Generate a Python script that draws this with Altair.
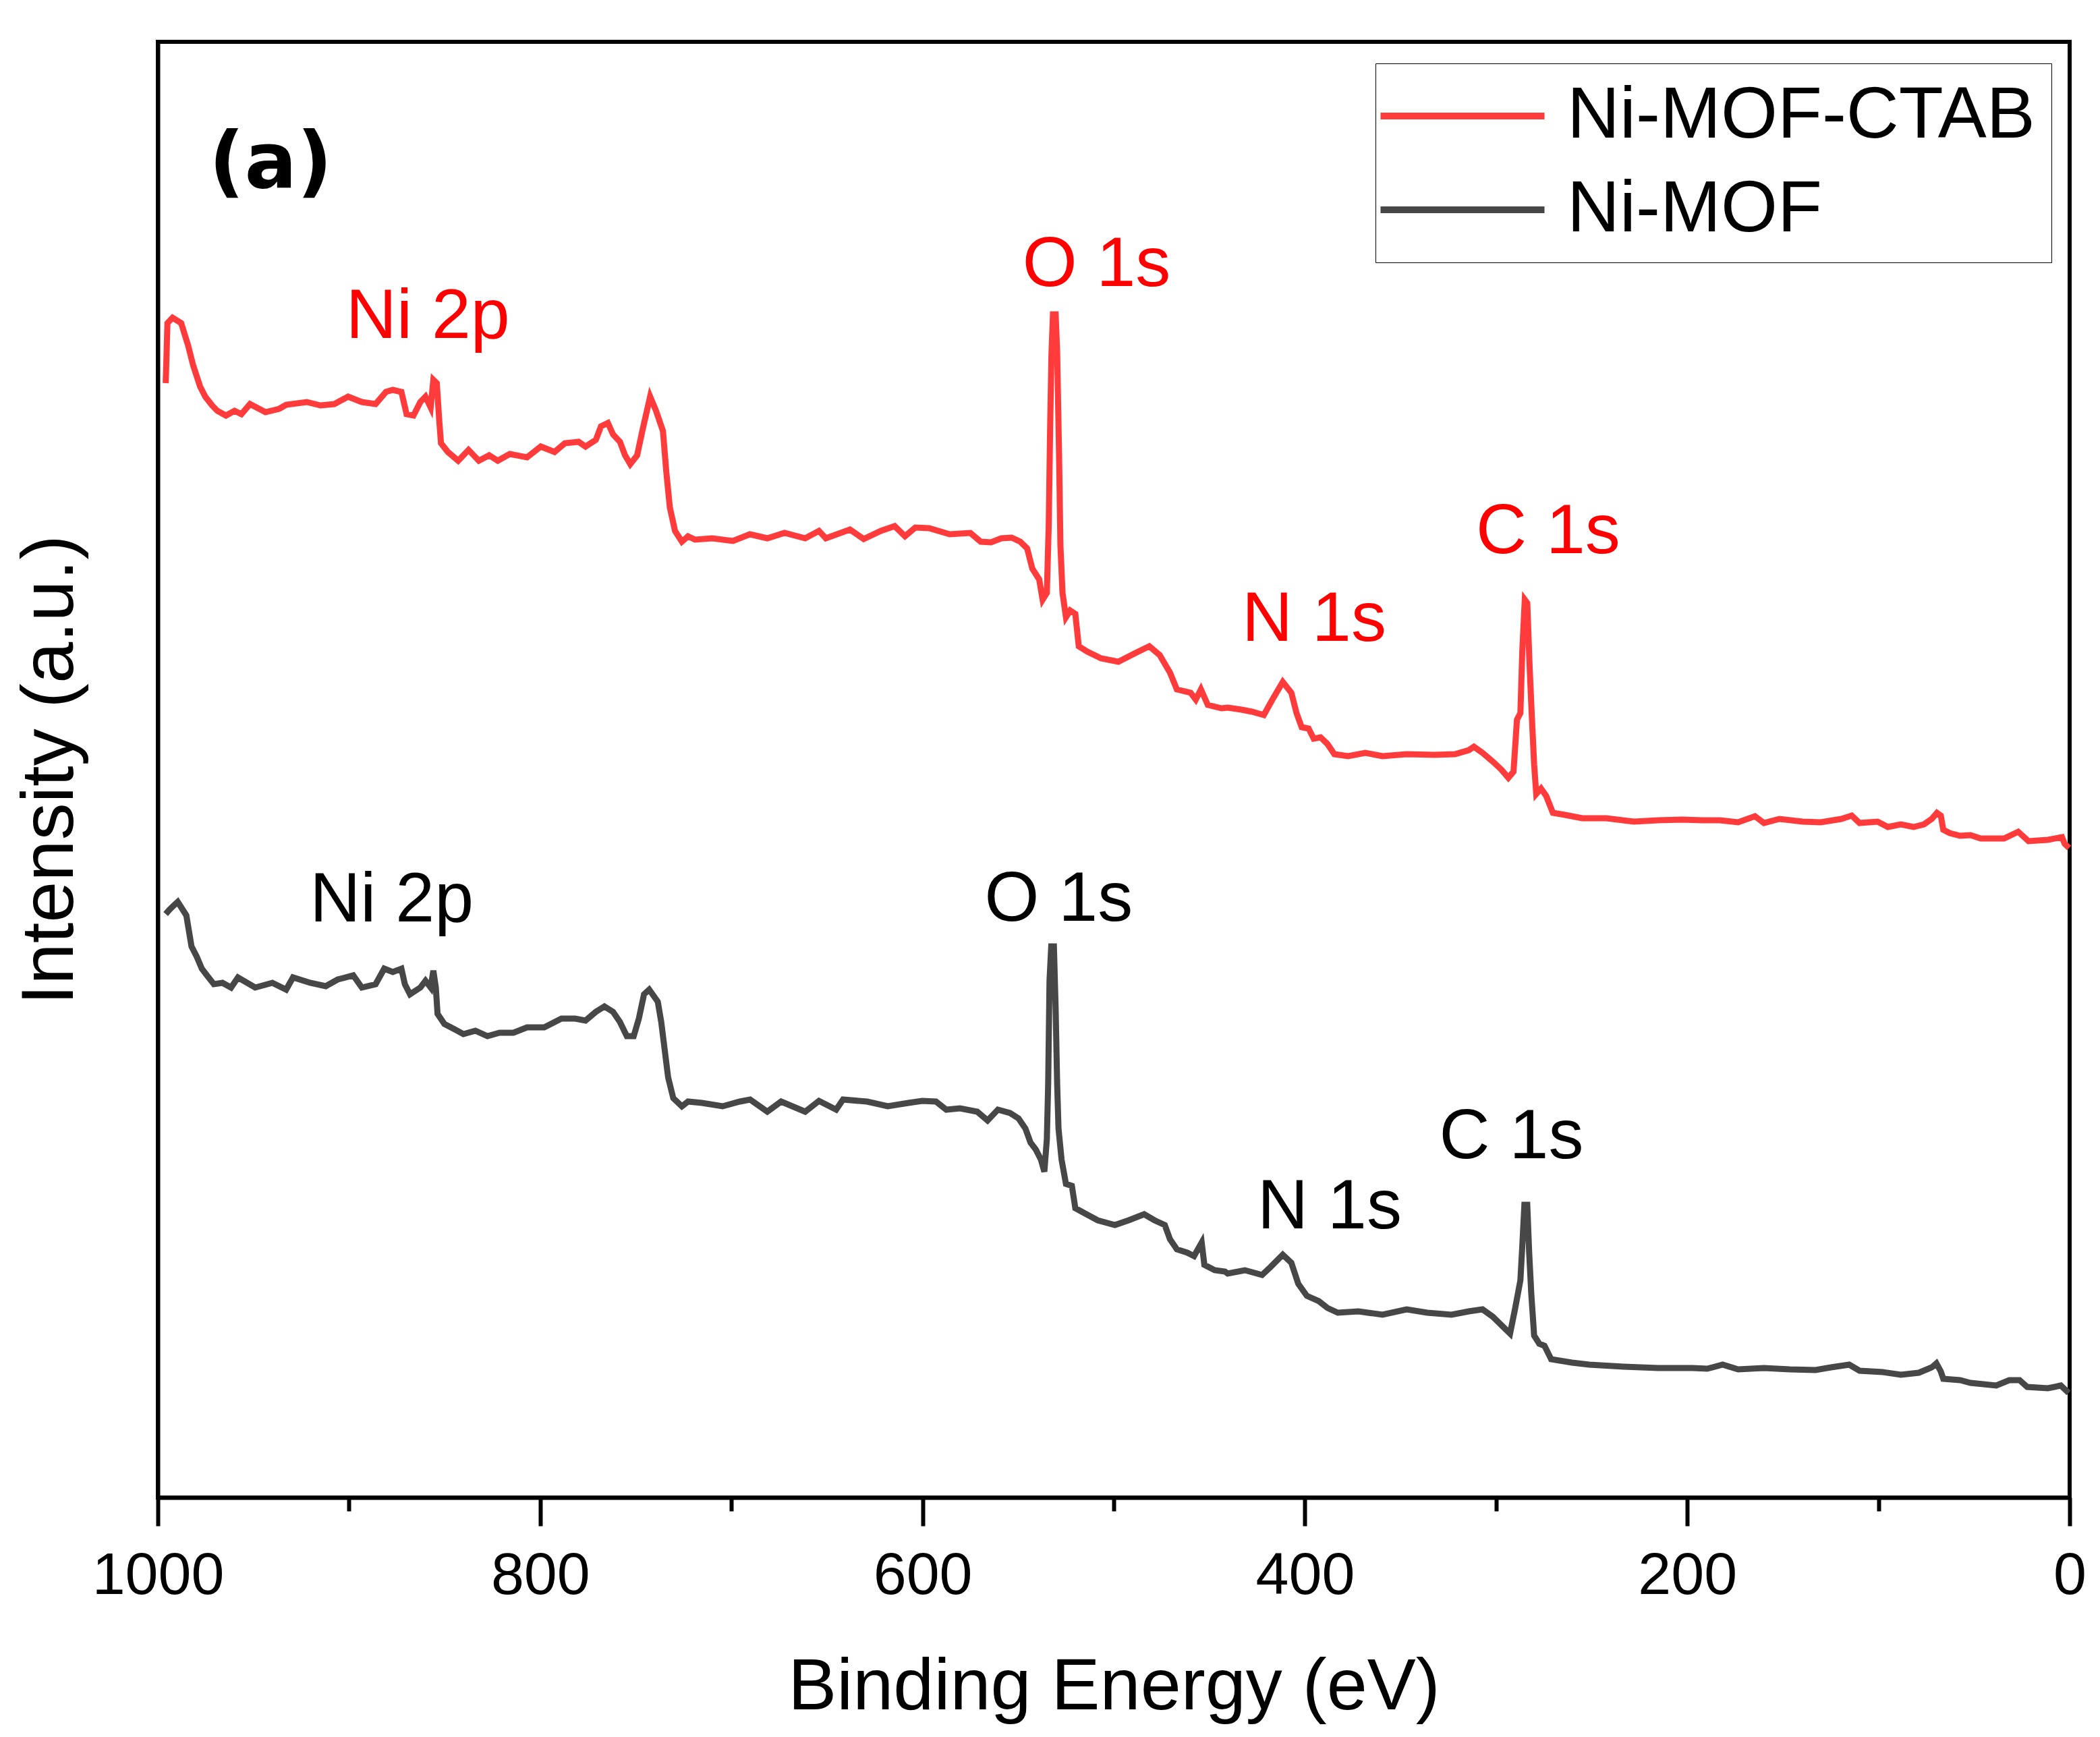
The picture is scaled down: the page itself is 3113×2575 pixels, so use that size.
import altair as alt
import pandas as pd

# ---- data (binding energy in eV, intensity in a.u.) ----
ni_mof_ctab = [
    (995.9, 165.2), (995.6, 168.0), (995.0, 174.1), (992.3, 174.9), (987.8, 174.1),
    (984.2, 170.8), (981.5, 167.8), (977.9, 164.7), (975.2, 163.2), (971.6, 161.9),
    (968.9, 161.1), (964.4, 160.4), (959.9, 161.1), (956.3, 160.6), (951.8, 162.1),
    (943.7, 160.9), (936.5, 161.4), (932.9, 162.0), (922.1, 162.4), (914.9, 161.9),
    (907.7, 162.1), (900.5, 163.2), (893.3, 162.4), (886.1, 162.1), (880.7, 163.9),
    (877.1, 164.2), (872.6, 163.9), (869.9, 160.6), (866.3, 160.4), (862.7, 162.4),
    (860.0, 163.2), (857.3, 161.6), (855.9, 165.7), (854.1, 165.2), (852.8, 159.6),
    (851.9, 156.3), (848.3, 155.0), (842.9, 153.7), (837.5, 155.3), (832.1, 153.7),
    (826.7, 154.5), (822.2, 153.7), (815.9, 154.7), (806.9, 154.2), (799.7, 155.8),
    (792.5, 155.0), (787.1, 156.3), (779.9, 156.5), (776.3, 155.8), (770.9, 156.8),
    (768.2, 158.8), (764.6, 159.3), (761.9, 157.6), (758.3, 156.5), (755.6, 154.5),
    (752.9, 153.2), (749.3, 154.5), (746.6, 158.1), (742.5, 163.2), (739.4, 161.1),
    (735.8, 158.1), (734.0, 151.9), (732.2, 146.8), (729.5, 143.3), (725.9, 141.7),
    (722.7, 142.5), (719.0, 142.0), (710.1, 142.2), (699.2, 141.8), (690.3, 142.8),
    (681.2, 142.2), (672.2, 143.0), (661.4, 142.2), (654.2, 143.3), (650.6, 142.2),
    (638.0, 143.5), (630.8, 142.1), (621.8, 143.3), (614.6, 144.0), (609.2, 142.5),
    (603.8, 143.8), (596.6, 143.7), (585.8, 142.8), (575.0, 143.0), (569.6, 141.7),
    (564.2, 141.6), (558.8, 142.2), (553.4, 142.3), (548.9, 141.7), (545.3, 140.7),
    (542.6, 137.7), (539.0, 136.1), (537.2, 133.1), (535.0, 134.1), (534.0, 144.3),
    (533.3, 158.1), (532.6, 169.3), (531.8, 175.4), (530.4, 175.4), (529.6, 169.8),
    (528.6, 154.5), (527.9, 141.2), (526.8, 134.1), (525.0, 130.5), (522.8, 131.5),
    (520.1, 131.0), (518.3, 126.2), (513.8, 125.4), (506.6, 124.4), (497.6, 123.9),
    (488.6, 125.2), (481.4, 126.2), (476.0, 124.9), (470.6, 122.3), (467.0, 119.8),
    (459.8, 119.3), (457.1, 118.3), (454.4, 119.8), (450.8, 117.5), (443.6, 117.0),
    (440.4, 117.1), (433.2, 116.8), (427.8, 116.5), (421.5, 116.0), (417.0, 118.3),
    (411.6, 120.9), (407.1, 119.3), (404.4, 116.3), (401.7, 114.2), (398.1, 114.0),
    (395.4, 112.5), (391.8, 112.7), (388.2, 111.7), (384.6, 110.2), (377.4, 109.9),
    (368.4, 110.4), (359.4, 109.9), (346.8, 110.2), (332.4, 110.1), (321.5, 110.2),
    (314.3, 110.8), (311.6, 111.3), (307.1, 110.4), (301.7, 109.1), (297.2, 107.9),
    (293.6, 106.7), (290.9, 107.6), (289.1, 115.3), (287.3, 116.3), (286.3, 125.5),
    (285.0, 133.1), (283.7, 132.6), (282.5, 123.4), (281.4, 116.3), (280.1, 108.6),
    (279.0, 104.3), (276.5, 105.1), (273.8, 104.0), (270.3, 101.5), (264.0, 101.2),
    (254.9, 100.7), (242.3, 100.7), (228.0, 100.2), (215.3, 100.4), (202.7, 100.5),
    (192.3, 100.4), (182.9, 100.4), (173.4, 100.1), (164.6, 101.0), (159.9, 100.0),
    (151.8, 100.6), (139.7, 100.2), (130.2, 100.1), (119.4, 100.6), (114.0, 101.1),
    (109.9, 100.0), (100.5, 100.2), (95.1, 99.4), (88.3, 99.8), (81.6, 99.4),
    (76.2, 99.8), (72.1, 100.6), (69.4, 101.5), (67.4, 101.1), (66.1, 99.0),
    (62.7, 98.5), (57.3, 98.1), (51.9, 98.2), (46.5, 97.7), (34.3, 97.7),
    (26.9, 98.7), (21.5, 97.3), (11.4, 97.5), (4.0, 97.9), (2.6, 96.9), (0.3, 96.3),
]

ni_mof = [
    (995.9, 86.5), (994.1, 87.1), (992.3, 87.6), (989.6, 88.3), (986.9, 87.1),
    (985.1, 86.3), (982.4, 81.7), (979.7, 80.2), (977.0, 78.4), (974.3, 77.4),
    (970.7, 76.1), (966.2, 76.3), (961.7, 75.6), (958.1, 77.1), (949.1, 75.6),
    (940.1, 76.3), (932.9, 75.3), (929.3, 77.1), (920.3, 76.3), (912.2, 75.8),
    (905.9, 76.8), (897.8, 77.4), (893.3, 75.6), (886.1, 76.1), (881.6, 78.4),
    (877.1, 77.9), (872.6, 78.4), (870.8, 76.1), (868.1, 74.6), (862.7, 75.6),
    (860.0, 76.6), (857.3, 75.6), (855.9, 78.1), (854.6, 75.6), (853.7, 71.7),
    (850.1, 70.2), (844.7, 69.4), (840.2, 68.7), (833.9, 69.2), (827.6, 68.4),
    (821.3, 68.9), (814.1, 68.9), (806.9, 69.7), (797.9, 69.7), (788.9, 71.0),
    (781.7, 71.0), (776.3, 70.7), (770.9, 72.0), (766.4, 72.8), (761.9, 72.0),
    (758.3, 70.5), (754.7, 68.4), (751.1, 68.4), (748.4, 71.0), (745.7, 74.6),
    (743.0, 75.3), (738.5, 73.5), (736.7, 70.5), (734.9, 66.4), (733.1, 62.3),
    (730.4, 59.2), (725.9, 58.0),
    (722.7, 58.7), (715.4, 58.5), (704.6, 58.0), (695.6, 58.7), (690.2, 59.0),
    (681.2, 57.2), (674.0, 58.7), (661.4, 57.2), (654.2, 58.8), (645.2, 57.5),
    (641.6, 59.0), (629.0, 58.7), (618.2, 58.0), (607.4, 58.5), (600.2, 58.8),
    (593.0, 58.7), (587.6, 57.5), (580.4, 57.7), (571.4, 57.2), (566.0, 55.9),
    (560.6, 57.5), (554.3, 57.0), (549.8, 56.2), (546.2, 54.7), (543.5, 52.6),
    (540.8, 51.6), (538.1, 50.1), (536.3, 48.3), (535.0, 53.1), (534.3, 61.3),
    (533.6, 76.6), (532.7, 81.7), (531.3, 81.7), (530.4, 72.5), (529.6, 61.3),
    (528.9, 54.7), (527.3, 50.1), (525.0, 46.5), (521.9, 46.2), (520.1, 42.9),
    (515.6, 42.2), (508.4, 41.1), (499.4, 40.4), (492.2, 41.1), (484.1, 42.0),
    (478.7, 41.1), (473.3, 40.4), (470.6, 38.3), (467.0, 36.8), (461.6, 36.3),
    (458.0, 35.8), (454.0, 37.8), (452.6, 34.5), (447.2, 33.7), (441.8, 33.5),
    (440.4, 33.2), (431.4, 33.7), (422.4, 33.0), (417.9, 34.2), (411.6, 36.0),
    (407.1, 34.8), (403.5, 31.7), (399.0, 29.9), (392.7, 29.1), (388.2, 28.1),
    (382.8, 27.4), (372.0, 27.6), (359.4, 27.1), (346.8, 27.9), (336.0, 27.4),
    (323.3, 27.1), (314.3, 27.6), (307.1, 27.9), (301.7, 26.8), (296.3, 25.3),
    (292.7, 24.3), (290.0, 28.1), (287.3, 32.2), (286.3, 37.3), (285.2, 43.4),
    (283.7, 43.4), (282.7, 36.3), (281.6, 30.2), (280.1, 24.0), (277.4, 22.8),
    (274.7, 22.5), (271.2, 20.5), (260.3, 20.0), (251.3, 19.7), (233.3, 19.4),
    (215.3, 19.2), (197.3, 19.2),
    (189.6, 19.1), (181.5, 19.7), (173.4, 19.0), (159.9, 19.2), (146.4, 19.0),
    (132.9, 18.9), (124.8, 19.3), (115.3, 19.7), (109.9, 18.8), (97.8, 18.6),
    (88.3, 18.2), (78.9, 18.5), (72.1, 19.3), (69.7, 19.9), (67.4, 18.7),
    (66.1, 17.6), (57.3, 17.4), (51.9, 17.0), (38.4, 16.6), (31.6, 17.4),
    (26.2, 17.4), (22.2, 16.4), (11.4, 16.2), (4.6, 16.6), (0.5, 15.5),
]

series_names = ["Ni-MOF-CTAB", "Ni-MOF"]
series_colors = ["#ff3b3b", "#474747"]

peak_labels = ["Ni 2p", "O 1s", "N 1s", "C 1s"]
ctab_label_energy = [858.8, 509.0, 395.2, 272.8]
ctab_label_intensity = [171.9, 179.6, 127.0, 140.0]
mof_label_energy = [877.7, 528.8, 387.1, 292.0]
mof_label_intensity = [85.4, 85.5, 39.9, 50.3]

panel_tag = ["(a)"]
panel_tag_energy = [941.0]
panel_tag_intensity = [194.2]

major_ticks = [0, 200, 400, 600, 800, 1000]
minor_ticks = [100, 300, 500, 700, 900]

# ---- tables ----
rows = [{"energy": e, "intensity": v, "sample": series_names[0]} for e, v in ni_mof_ctab]
rows += [{"energy": e, "intensity": v, "sample": series_names[1]} for e, v in ni_mof]
spectra = pd.DataFrame(rows)

ctab_labels = pd.DataFrame({"label": peak_labels, "energy": ctab_label_energy,
                            "intensity": ctab_label_intensity})
mof_labels = pd.DataFrame({"label": peak_labels, "energy": mof_label_energy,
                           "intensity": mof_label_intensity})
tag = pd.DataFrame({"label": panel_tag, "energy": panel_tag_energy,
                    "intensity": panel_tag_intensity})

FONT = "Liberation Sans"
W, H = 2834, 2158

xscale = alt.Scale(domain=[0, 1000], reverse=True, nice=False, zero=False)
yscale = alt.Scale(domain=[0, 215.8], nice=False, zero=False)

major_axis = alt.Axis(
    orient="bottom", values=major_ticks, format="d", grid=False,
    tickSize=42, tickWidth=6, tickColor="black",
    labelFont=FONT, labelFontSize=88, labelColor="black", labelPadding=30,
    labelFlush=False, labelLimit=1000, labelOverlap=False,
    domainColor="black", domainWidth=6,
    title="Binding Energy (eV)", titleFont=FONT, titleFontSize=108,
    titleFontWeight="normal", titleColor="black", titlePadding=68,
)
minor_axis = alt.Axis(
    orient="bottom", values=minor_ticks, grid=False, labels=False,
    tickSize=20, tickWidth=6, tickColor="black", domain=False, title=None,
)
y_axis = alt.Axis(
    labels=False, ticks=False, grid=False, domainColor="black", domainWidth=6,
    title="Intensity (a.u.)", titleFont=FONT, titleFontSize=110,
    titleFontWeight="normal", titleColor="black", titlePadding=104,
)

legend = alt.Legend(
    title=None, orient="none", legendX=1805, legendY=32,
    symbolType="M-2.5,0H2.5", symbolSize=9448, symbolStrokeWidth=10,
    symbolOffset=51,
    labelFont=FONT, labelFontSize=108, labelColor="black", labelOffset=101,
    labelLimit=2000, padding=24, rowPadding=31,
    strokeColor="black", fillColor="white",
)

lines = alt.Chart(spectra).mark_line(strokeWidth=9).encode(
    x=alt.X("energy:Q", scale=xscale, axis=major_axis),
    y=alt.Y("intensity:Q", scale=yscale, axis=y_axis),
    color=alt.Color("sample:N", scale=alt.Scale(domain=series_names, range=series_colors),
                    legend=legend),
)

ctab_text = alt.Chart(ctab_labels).mark_text(
    font=FONT, fontSize=104, align="center", baseline="alphabetic", color="#ff0000"
).encode(
    x=alt.X("energy:Q", scale=xscale, axis=minor_axis),
    y=alt.Y("intensity:Q", scale=yscale, axis=y_axis),
    text="label:N",
)

mof_text = alt.Chart(mof_labels).mark_text(
    font=FONT, fontSize=104, align="center", baseline="alphabetic", color="#000000"
).encode(
    x=alt.X("energy:Q", scale=xscale, axis=None),
    y=alt.Y("intensity:Q", scale=yscale, axis=y_axis),
    text="label:N",
)

tag_text = alt.Chart(tag).mark_text(
    font="DejaVu Sans", fontSize=115, fontWeight="bold", align="center",
    baseline="alphabetic", color="#000000"
).encode(
    x=alt.X("energy:Q", scale=xscale, axis=None),
    y=alt.Y("intensity:Q", scale=yscale, axis=y_axis),
    text="label:N",
)

chart = (
    alt.layer(lines, ctab_text, mof_text, tag_text)
    .resolve_axis(x="independent")
    .properties(
        width=W, height=H,
        autosize=alt.AutoSizeParams(type="none"),
        padding={"left": 226, "top": 54, "right": 37, "bottom": 347},
        background="white",
    )
    .configure_view(stroke="black", strokeWidth=6)
)

chart.save("out.html", embed_options={"renderer": "svg", "actions": False})
